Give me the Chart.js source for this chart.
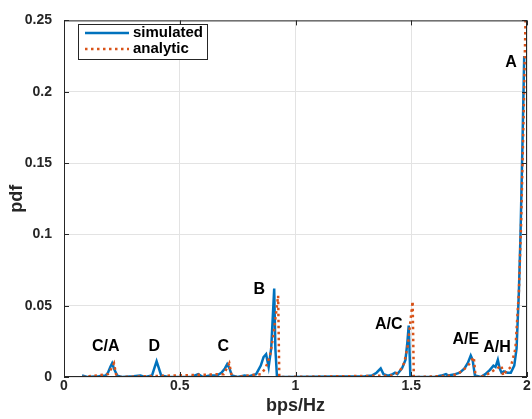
<!DOCTYPE html>
<html>
<head>
<meta charset="utf-8">
<script src="https://cdn.jsdelivr.net/npm/chart.js@4/dist/chart.umd.min.js"></script>
<style>
  html, body { margin: 0; padding: 0; background: #fff; }
  #wrap { width: 532px; height: 419px; }
</style>
</head>
<body>
<div id="wrap"><canvas id="myChart" width="532" height="419"></canvas></div>
<script>
// simulated histogram (blue)
const simX = [0.078, 0.10, 0.15, 0.18, 0.19, 0.20, 0.208, 0.218, 0.23, 0.25, 0.30, 0.33, 0.35, 0.38, 0.39, 0.40, 0.41, 0.42, 0.45,
  0.55, 0.58, 0.60, 0.63, 0.66, 0.68, 0.695, 0.705, 0.715, 0.725, 0.75, 0.78, 0.80, 0.83, 0.85, 0.862, 0.873, 0.884, 0.895, 0.908, 0.913, 0.92,
  0.95, 1.30, 1.33, 1.35, 1.368, 1.38, 1.40, 1.42, 1.43, 1.44, 1.46, 1.475, 1.483, 1.489, 1.496, 1.51,
  1.60, 1.63, 1.65, 1.66, 1.69, 1.71, 1.73, 1.745, 1.757, 1.765, 1.775, 1.80, 1.82, 1.84, 1.855, 1.864, 1.874, 1.882, 1.89, 1.90, 1.915,
  1.93, 1.945, 1.955, 1.965, 1.972, 1.98, 1.988];
const simPdf = [0.001, 0, 0.0005, 0.001, 0.003, 0.007, 0.0096, 0.005, 0.001, 0, 0.0005, 0.001, 0, 0.001, 0.006, 0.011, 0.006, 0.001, 0,
  0, 0.002, 0, 0.001, 0.001, 0.003, 0.006, 0.009, 0.006, 0.001, 0, 0.001, 0.0005, 0.002, 0.008, 0.014, 0.016, 0.007, 0.02, 0.062, 0.02, 0,
  0, 0.0005, 0.001, 0.003, 0.006, 0.002, 0.001, 0.002, 0.003, 0.002, 0.006, 0.012, 0.024, 0.036, 0.001, 0,
  0, 0.001, 0.002, 0.001, 0.002, 0.003, 0.006, 0.01, 0.015, 0.012, 0.001, 0, 0.002, 0.005, 0.008, 0.007, 0.012, 0.006, 0.003, 0.004, 0.003,
  0.003, 0.008, 0.02, 0.06, 0.1, 0.16, 0.225];

// analytic pdf (orange)
const anaX = [0.08, 0.19, 0.205, 0.216, 0.226, 0.24, 0.69, 0.703, 0.714, 0.724, 0.74, 0.85, 0.87, 0.89, 0.905, 0.925, 0.93, 0.95,
  1.42, 1.45, 1.47, 1.485, 1.497, 1.506, 1.511, 1.53, 1.68, 1.72, 1.75, 1.77, 1.778, 1.80, 1.83, 1.86, 1.89, 1.897, 1.91, 1.93,
  1.95, 1.965, 1.975, 1.985, 1.996];
const anaPdf = [0, 0.002, 0.006, 0.0096, 0.001, 0, 0.002, 0.006, 0.0096, 0.001, 0, 0.002, 0.006, 0.015, 0.03, 0.057, 0, 0,
  0.001, 0.004, 0.01, 0.022, 0.04, 0.053, 0, 0, 0.001, 0.004, 0.009, 0.014, 0, 0, 0.002, 0.005, 0.008, 0.001, 0.004, 0.007,
  0.02, 0.06, 0.11, 0.18, 0.27];

// peak annotations
const peakNames = ['C/A', 'D', 'C', 'B', 'A/C', 'A/E', 'A/H', 'A'];
const peakX = [0.18, 0.39, 0.688, 0.844, 1.403, 1.736, 1.87, 1.931];
const peakY = [0.021, 0.021, 0.021, 0.061, 0.037, 0.026, 0.0205, 0.2206];

const xTicks = [0, 0.5, 1, 1.5, 2];
const yTicks = [0, 0.05, 0.1, 0.15, 0.2, 0.25];

const ink = '#262626';
const blue = '#0072BD';
const orange = '#D95319';
const fontFam = '"Liberation Sans", Arial, Helvetica, sans-serif';

const toPts = (xs, ys) => xs.map((x, i) => ({ x: x, y: ys[i] }));

// box, inward ticks, labels, legend
const matlabAxes = {
  id: 'matlabAxes',
  afterDatasetsDraw(chart) {
    const { ctx, chartArea: a, scales: { x, y } } = chart;
    ctx.save();
    // labels on peaks
    ctx.fillStyle = '#000';
    ctx.font = 'bold 16px ' + fontFam;
    ctx.textAlign = 'center';
    ctx.textBaseline = 'middle';
    peakNames.forEach((t, i) => {
      ctx.fillText(t, x.getPixelForValue(peakX[i]), y.getPixelForValue(peakY[i]));
    });
    // box
    ctx.strokeStyle = ink;
    ctx.lineWidth = 1;
    ctx.strokeRect(a.left + 0.5, a.top + 0.5, a.right - a.left - 1, a.bottom - a.top - 1);
    // inward ticks
    ctx.beginPath();
    xTicks.forEach(v => {
      const px = Math.round(x.getPixelForValue(v)) + 0.5;
      ctx.moveTo(px, a.bottom); ctx.lineTo(px, a.bottom - 5);
      ctx.moveTo(px, a.top); ctx.lineTo(px, a.top + 5);
    });
    yTicks.forEach(v => {
      const py = Math.round(y.getPixelForValue(v)) + 0.5;
      ctx.moveTo(a.left, py); ctx.lineTo(a.left + 5, py);
      ctx.moveTo(a.right, py); ctx.lineTo(a.right - 5, py);
    });
    ctx.stroke();
    // legend
    const lx = 78, ly = 24, lw = 129, lh = 35;
    ctx.fillStyle = '#fff';
    ctx.fillRect(lx, ly, lw, lh);
    ctx.strokeStyle = ink;
    ctx.strokeRect(lx + 0.5, ly + 0.5, lw, lh);
    ctx.lineWidth = 2.5;
    ctx.strokeStyle = blue;
    ctx.beginPath(); ctx.moveTo(85, 33); ctx.lineTo(129, 33); ctx.stroke();
    ctx.strokeStyle = orange;
    ctx.setLineDash([2.5, 3.5]);
    ctx.beginPath(); ctx.moveTo(85, 49); ctx.lineTo(129, 49); ctx.stroke();
    ctx.setLineDash([]);
    ctx.fillStyle = '#000';
    ctx.font = 'bold 15px ' + fontFam;
    ctx.textAlign = 'left';
    ctx.fillText('simulated', 133, 33);
    ctx.fillText('analytic', 133, 49);
    ctx.restore();
  }
};

const ctx = document.getElementById('myChart').getContext('2d');
new Chart(ctx, {
  type: 'line',
  data: {
    datasets: [{
      label: 'simulated',
      data: toPts(simX, simPdf),
      borderColor: blue,
      borderWidth: 2.5,
      pointRadius: 0,
      tension: 0,
      order: 2
    }, {
      label: 'analytic',
      data: toPts(anaX, anaPdf),
      borderColor: orange,
      borderWidth: 2.5,
      borderDash: [2.5, 3.5],
      pointRadius: 0,
      tension: 0,
      order: 1
    }]
  },
  options: {
    responsive: false,
    animation: false,
    clip: { left: 0, right: 0, top: 0, bottom: 0 },
    layout: { padding: { top: 11, right: 5, left: 0, bottom: 0 } },
    plugins: {
      legend: { display: false },
      tooltip: { enabled: false }
    },
    scales: {
      x: {
        type: 'linear',
        min: 0,
        max: 2,
        afterBuildTicks: s => { s.ticks = xTicks.map(v => ({ value: v })); },
        afterFit: s => { s.height = 42; },
        ticks: {
          color: ink,
          font: { family: fontFam, size: 14, weight: 'bold' },
          padding: 1,
          maxRotation: 0,
          callback: v => String(v)
        },
        grid: { color: '#e3e3e3', tickLength: 0, drawTicks: false },
        border: { display: false },
        title: {
          display: true,
          text: 'bps/Hz',
          color: ink,
          font: { family: fontFam, size: 18, weight: 'bold' },
          padding: { top: 0, bottom: 2 }
        }
      },
      y: {
        type: 'linear',
        min: 0,
        max: 0.25,
        afterBuildTicks: s => { s.ticks = yTicks.map(v => ({ value: v })); },
        afterFit: s => { s.width = 64; },
        ticks: {
          color: ink,
          font: { family: fontFam, size: 14, weight: 'bold' },
          padding: 12,
          callback: v => String(v)
        },
        grid: { color: '#e3e3e3', tickLength: 0, drawTicks: false },
        border: { display: false },
        title: {
          display: true,
          text: 'pdf',
          color: ink,
          font: { family: fontFam, size: 18, weight: 'bold' },
          padding: { top: 6, bottom: 0 }
        }
      }
    }
  },
  plugins: [matlabAxes]
});
</script>
</body>
</html>
